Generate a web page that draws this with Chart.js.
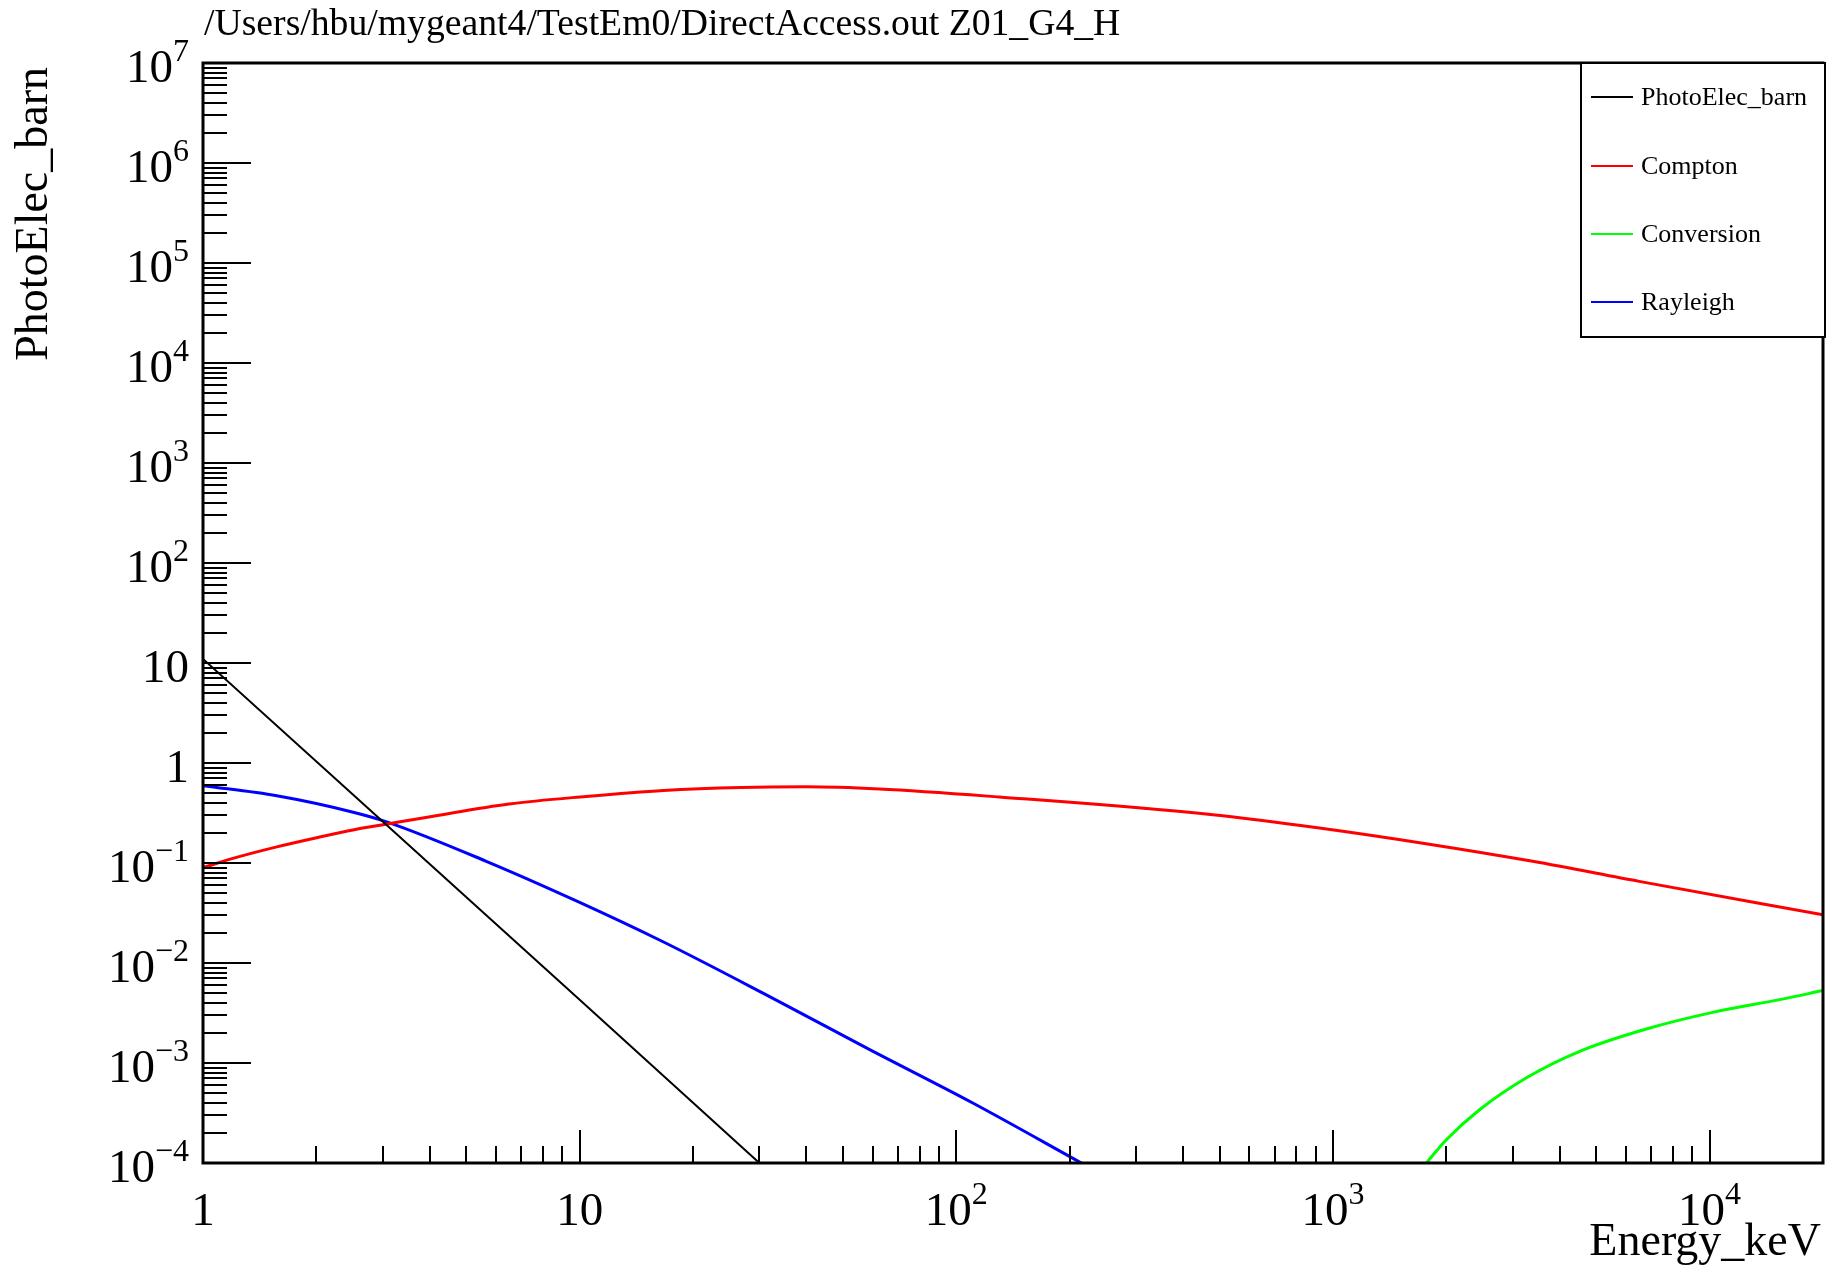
<!DOCTYPE html>
<html>
<head>
<meta charset="utf-8">
<script src="https://cdn.jsdelivr.net/npm/chart.js@4.4.1/dist/chart.umd.min.js"></script>
<style>
  html, body { margin: 0; padding: 0; background: #fff; }
  #wrap { width: 1836px; height: 1266px; }
</style>
</head>
<body>
<div id="wrap"><canvas id="xsec" width="1836" height="1266"></canvas></div>
<script>
// values (energy in keV, cross section in barn)
var energyPE = [1, 3, 10, 30, 40];
var photoElec = [10.96, 0.26, 0.0043, 0.0001, 0.000038];

var energyCompton = [1, 1.24, 1.57, 1.99, 2.52, 3.12, 4.05, 6.49, 10.4, 16.7, 26.8, 39.8, 62.5, 130, 480, 920, 1766, 3390, 6500, 20000];
var compton = [0.090, 0.115, 0.145, 0.178, 0.215, 0.247, 0.292, 0.389, 0.463, 0.532, 0.570, 0.578, 0.55, 0.457, 0.304, 0.224, 0.156, 0.104, 0.0655, 0.0304];

var energyConv = [1770, 2000, 2450, 3290, 4520, 6790, 10190, 15340, 20000];
var conversion = [0.0001, 0.000171, 0.000341, 0.000724, 0.00131, 0.00219, 0.00321, 0.0043, 0.0053];

var energyRayl = [1, 1.57, 2.52, 3.1, 5.65, 10, 16.6, 31.3, 58.9, 110.6, 214.8];
var rayleigh = [0.593, 0.47, 0.32, 0.255, 0.104, 0.0404, 0.0164, 0.0048, 0.00136, 0.000398, 0.0001];

var seriesNames = ['PhotoElec_barn', 'Compton', 'Conversion', 'Rayleigh'];
var seriesColors = ['#000000', '#ff0000', '#00ff00', '#0000ff'];

var xTickValues = [1, 10, 100, 1000, 10000];
var xTickLabels = [['1', ''], ['10', ''], ['10', '2'], ['10', '3'], ['10', '4']];
var yTickValues = [1e7, 1e6, 1e5, 1e4, 1e3, 1e2, 10, 1, 0.1, 0.01, 0.001, 0.0001];
var yTickLabels = [['10', '7'], ['10', '6'], ['10', '5'], ['10', '4'], ['10', '3'], ['10', '2'],
                   ['10', ''], ['1', ''], ['10', '\u22121'], ['10', '\u22122'], ['10', '\u22123'], ['10', '\u22124']];

var plotTitle = '/Users/hbu/mygeant4/TestEm0/DirectAccess.out Z01_G4_H';
var xTitle = 'Energy_keV';
var yTitle = 'PhotoElec_barn';

var serif = "'Liberation Serif', 'DejaVu Serif', serif";

var toPoints = function(xs, ys){
  var pts = [];
  for (var i = 0; i < xs.length; i++){
    pts.push({x: xs[i], y: ys[i]});
  }
  return pts;
};

var drawPow = function(ctx, base, exp, x, y, align){
  ctx.font = '47px ' + serif;
  var wb = ctx.measureText(base).width;
  ctx.font = '32px ' + serif;
  var we = exp ? ctx.measureText(exp).width : 0;
  var total = wb + we;
  var x0 = align == 'right' ? x - total : x - total / 2;
  ctx.textAlign = 'left';
  ctx.textBaseline = 'alphabetic';
  ctx.font = '47px ' + serif;
  ctx.fillText(base, x0, y);
  if (exp){
    ctx.font = '32px ' + serif;
    ctx.fillText(exp, x0 + wb, y - 21);
  }
};

var rootFrame = {
  id: 'rootFrame',
  afterDatasetsDraw: function(chart){
    var ctx = chart.ctx;
    var a = chart.chartArea;
    var xs = chart.scales.x;
    var ys = chart.scales.y;
    ctx.save();
    ctx.fillStyle = '#000';
    ctx.strokeStyle = '#000';

    // ticks on the bottom axis (inward)
    ctx.lineWidth = 2;
    ctx.beginPath();
    for (var k = 0; k <= 4; k++){
      for (var m = 1; m <= 9; m++){
        var v = m * Math.pow(10, k);
        if (v < xs.min || v > xs.max) continue;
        var px = Math.round(xs.getPixelForValue(v));
        var len = m == 1 ? 33 : 17;
        ctx.moveTo(px, a.bottom);
        ctx.lineTo(px, a.bottom - len);
      }
    }
    // ticks on the left axis (inward)
    for (var k = -4; k <= 7; k++){
      for (var m = 1; m <= 9; m++){
        var v = m * Math.pow(10, k);
        if (v < ys.min * 0.999 || v > ys.max * 1.001) continue;
        var py = Math.round(ys.getPixelForValue(v));
        var len = m == 1 ? 48 : 24;
        ctx.moveTo(a.left, py);
        ctx.lineTo(a.left + len, py);
      }
    }
    ctx.stroke();

    // frame
    ctx.lineWidth = 3;
    ctx.strokeRect(a.left, a.top, a.right - a.left, a.bottom - a.top);

    // tick labels
    for (var i = 0; i < xTickValues.length; i++){
      var px = xs.getPixelForValue(xTickValues[i]);
      drawPow(ctx, xTickLabels[i][0], xTickLabels[i][1], px, 1225, 'center');
    }
    for (var i = 0; i < yTickValues.length; i++){
      var py = ys.getPixelForValue(yTickValues[i]);
      drawPow(ctx, yTickLabels[i][0], yTickLabels[i][1], 189, py + 19, 'right');
    }

    // title and axis titles
    ctx.textBaseline = 'alphabetic';
    ctx.font = '37.7px ' + serif;
    ctx.textAlign = 'left';
    ctx.fillText(plotTitle, a.left + 1, 35);

    ctx.font = '46px ' + serif;
    ctx.textAlign = 'right';
    ctx.fillText(xTitle, a.right - 2, 1255);

    ctx.save();
    ctx.translate(47, a.top + 4);
    ctx.rotate(-Math.PI / 2);
    ctx.textAlign = 'right';
    ctx.fillText(yTitle, 0, 0);
    ctx.restore();

    // legend box
    var lx = 1581, ly = a.top, lw = 244, lh = 274;
    ctx.fillStyle = '#fff';
    ctx.fillRect(lx, ly, lw, lh);
    ctx.lineWidth = 2;
    ctx.strokeStyle = '#000';
    ctx.strokeRect(lx, ly, lw, lh);
    var rows = [97, 166, 234, 302];
    ctx.font = '26px ' + serif;
    ctx.textAlign = 'left';
    ctx.textBaseline = 'middle';
    chart.data.datasets.forEach(function(ds, i){
      ctx.strokeStyle = ds.borderColor;
      ctx.lineWidth = 2;
      ctx.beginPath();
      ctx.moveTo(lx + 10, rows[i]);
      ctx.lineTo(lx + 52, rows[i]);
      ctx.stroke();
      ctx.fillStyle = '#000';
      ctx.fillText(ds.label, lx + 60, rows[i] + 1);
    });
    ctx.restore();
  }
};

var ctx = document.getElementById('xsec').getContext('2d');
var xsecChart = new Chart(ctx, {
  type: 'line',
  data: {
    datasets: [
      {label: seriesNames[0], data: toPoints(energyPE, photoElec), borderColor: seriesColors[0], borderWidth: 2,
       cubicInterpolationMode: 'default', tension: 0},
      {label: seriesNames[1], data: toPoints(energyCompton, compton), borderColor: seriesColors[1], borderWidth: 3},
      {label: seriesNames[2], data: toPoints(energyConv, conversion), borderColor: seriesColors[2], borderWidth: 3},
      {label: seriesNames[3], data: toPoints(energyRayl, rayleigh), borderColor: seriesColors[3], borderWidth: 3}
    ]
  },
  options: {
    responsive: false,
    animation: false,
    layout: {padding: {left: 203, top: 63, right: 13, bottom: 103}},
    elements: {
      point: {radius: 0},
      line: {cubicInterpolationMode: 'monotone', fill: false}
    },
    scales: {
      x: {type: 'logarithmic', min: 1, max: 20000, display: false},
      y: {type: 'logarithmic', min: 0.0001, max: 1e7, display: false}
    },
    plugins: {
      legend: {display: false},
      title: {display: false},
      tooltip: {enabled: false}
    }
  },
  plugins: [rootFrame]
});
</script>
</body>
</html>
